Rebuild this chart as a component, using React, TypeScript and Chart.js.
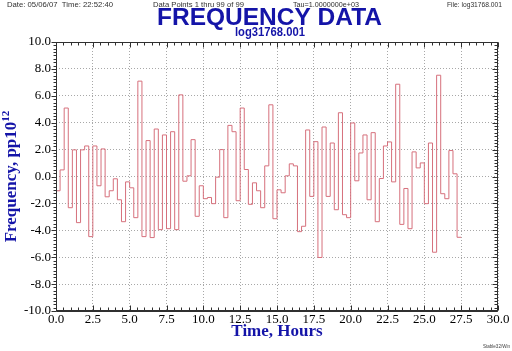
import { useEffect, useRef } from "react";
import { Chart, registerables } from "chart.js";

Chart.register(...registerables);

const TAU_SECONDS = 1000;
const FREQ_VALUES = [
  -1.06, 0.49, 5.09, -2.32, 1.98, -3.43, 1.98, 2.27, -4.47, 2.27,
  -0.69, 2.05, -1.51, -1.06, -0.17, -1.73, -3.36, -0.4, -0.84, -3.06,
  7.09, -4.47, 2.67, -4.54, 3.53, -3.95, 3.09, -3.88, 3.33, -3.95,
  6.07, -0.35, 0.05, 2.74, -2.96, -0.69, -1.65, -1.56, -2.02, -0.05,
  2.0, -3.06, 3.8, 3.33, -1.8, 5.09, 0.52, -2.07, -0.47, -1.06,
  -2.32, 0.79, 5.33, -3.14, -0.99, -1.21, 0.05, 0.94, 0.79, -4.1,
  -3.7, 3.46, -1.48, 2.59, -6.02, 3.68, -1.48, 2.49, -2.47, 4.74,
  -2.84, -3.06, 3.98, -0.32, 1.75, 3.09, -1.73, 3.26, -3.36, -0.15,
  2.27, 2.57, -0.4, 6.86, -3.56, -0.89, -3.88, 1.83, 0.64, 1.01,
  -2.02, 2.49, -5.63, 7.53, -1.28, -1.65, 1.93, 0.2, -4.52,
];

const X_MIN = 0;
const X_MAX = 30;
const X_MAJOR = 2.5;
const X_MINOR = 0.5;
const Y_MIN = -10;
const Y_MAX = 10;
const Y_MAJOR = 2;
const Y_MINOR = 0.25;

const TITLE = "FREQUENCY DATA";
const SUBTITLE = "log31768.001";
const HEADER_TEXTS = [
  "Date: 05/06/07  Time: 22:52:40",
  "Data Points 1 thru 99 of 99",
  "Tau=1.0000000e+03",
  "File: log31768.001",
];
const FOOTER_TEXT = "Stable32/Win";
const X_TITLE = "Time, Hours";
const Y_TITLE_MAIN = "Frequency, pp10";
const Y_TITLE_SUP = "12";

const BLUE = "#1414a8";
const LINE_COLOR = "#d6707c";

function fitText(
  ctx: CanvasRenderingContext2D,
  text: string,
  font: string,
  color: string,
  x: number,
  y: number,
  width: number
) {
  ctx.save();
  ctx.font = font;
  ctx.fillStyle = color;
  ctx.textAlign = "left";
  ctx.textBaseline = "middle";
  const w = ctx.measureText(text).width;
  ctx.translate(x, y);
  ctx.scale(width / w, 1);
  ctx.fillText(text, 0, 0);
  ctx.restore();
}

const decorPlugin = {
  id: "decor",
  afterDraw(chart: any) {
    const ctx: CanvasRenderingContext2D = chart.ctx;
    const { left, right, top, bottom } = chart.chartArea;
    const xs = chart.scales.x;
    const ys = chart.scales.y;

    // frame
    ctx.save();
    ctx.strokeStyle = "#303030";
    ctx.lineWidth = 1;
    const L = Math.round(left) + 0.5;
    const R = Math.round(right) - 0.5;
    const T = Math.round(top) + 0.5;
    const B = Math.round(bottom) - 0.5;
    ctx.strokeRect(L, T, R - L, B - T);
    ctx.beginPath();
    ctx.moveTo(L, B + 1);
    ctx.lineTo(R, B + 1);
    ctx.stroke();

    // x minor/major ticks (top & bottom, inward)
    const nx = Math.round((X_MAX - X_MIN) / X_MINOR);
    const xPer = Math.round(X_MAJOR / X_MINOR);
    ctx.beginPath();
    for (let k = 0; k <= nx; k++) {
      const v = X_MIN + k * X_MINOR;
      const px = Math.round(xs.getPixelForValue(v)) + 0.5;
      const len = k % xPer === 0 ? 5 : 3;
      ctx.moveTo(px, T);
      ctx.lineTo(px, T + len);
      ctx.moveTo(px, B);
      ctx.lineTo(px, B - len);
    }
    // y ticks: left outward, right inward
    const ny = Math.round((Y_MAX - Y_MIN) / Y_MINOR);
    const yPer = Math.round(Y_MAJOR / Y_MINOR);
    for (let k = 0; k <= ny; k++) {
      const v = Y_MIN + k * Y_MINOR;
      const py = Math.round(ys.getPixelForValue(v)) + 0.5;
      const len = k % yPer === 0 ? 5 : 3;
      ctx.moveTo(L, py);
      ctx.lineTo(L - len, py);
      ctx.moveTo(R, py);
      ctx.lineTo(R - len, py);
    }
    ctx.stroke();
    ctx.restore();

    // header
    const hdrFont = '8px "Liberation Sans"';
    const hdrColor = "#303030";
    fitText(ctx, HEADER_TEXTS[0], hdrFont, hdrColor, 7, 5, 106);
    fitText(ctx, HEADER_TEXTS[1], hdrFont, hdrColor, 153, 5, 91);
    fitText(ctx, HEADER_TEXTS[2], hdrFont, hdrColor, 293, 5, 66);
    fitText(ctx, HEADER_TEXTS[3], hdrFont, hdrColor, 447, 5, 55);

    // titles
    fitText(ctx, TITLE, 'bold 23px "Liberation Sans"', BLUE, 157, 18.5, 225);
    fitText(ctx, SUBTITLE, 'bold 12px "Liberation Sans"', BLUE, 235, 33, 70);

    // x title
    ctx.save();
    ctx.font = 'bold 17px "Liberation Serif"';
    ctx.fillStyle = BLUE;
    ctx.textAlign = "center";
    ctx.textBaseline = "middle";
    ctx.fillText(X_TITLE, 277, 332);
    ctx.restore();

    // y title rotated with superscript
    ctx.save();
    ctx.translate(12, (top + bottom) / 2);
    ctx.rotate(-Math.PI / 2);
    ctx.fillStyle = BLUE;
    ctx.textBaseline = "middle";
    ctx.textAlign = "left";
    const mainFont = 'bold 17px "Liberation Serif"';
    const supFont = 'bold 11px "Liberation Serif"';
    ctx.font = mainFont;
    const w1 = ctx.measureText(Y_TITLE_MAIN).width;
    ctx.font = supFont;
    const w2 = ctx.measureText(Y_TITLE_SUP).width;
    const start = -(w1 + w2) / 2;
    ctx.font = mainFont;
    ctx.fillText(Y_TITLE_MAIN, start, 0);
    ctx.font = supFont;
    ctx.fillText(Y_TITLE_SUP, start + w1, -6);
    ctx.restore();

    // footer
    fitText(ctx, FOOTER_TEXT, '5px "Liberation Sans"', "#404040", 483, 347, 27);
  },
};

export default function App() {
  const ref = useRef<HTMLCanvasElement | null>(null);

  useEffect(() => {
    if (!ref.current) return;
    const hours = TAU_SECONDS / 3600;
    const pts = FREQ_VALUES.map((v, i) => ({ x: i * hours, y: v }));
    pts.push({ x: FREQ_VALUES.length * hours, y: FREQ_VALUES[FREQ_VALUES.length - 1] });

    const tickFont = { family: '"Liberation Serif"', size: 13 };
    const chart = new Chart(ref.current, {
      type: "line",
      data: {
        datasets: [
          {
            data: pts,
            stepped: "before",
            borderColor: LINE_COLOR,
            borderWidth: 1,
            pointRadius: 0,
            fill: false,
          },
        ],
      },
      options: {
        animation: false,
        responsive: false,
        devicePixelRatio: 1,
        layout: { padding: { top: 42, right: 14, left: 0, bottom: 0 } },
        plugins: { legend: { display: false }, tooltip: { enabled: false } },
        scales: {
          x: {
            type: "linear",
            min: X_MIN,
            max: X_MAX,
            ticks: {
              stepSize: X_MAJOR,
              autoSkip: false,
              maxRotation: 0,
              padding: 1,
              color: "#000",
              font: tickFont,
              callback: (v: any) => Number(v).toFixed(1),
            },
            grid: { color: "#a8a8a8", drawTicks: false, lineWidth: 1 },
            border: { display: false, dash: [1, 2] },
            afterFit: (s: any) => {
              s.height = 40;
            },
          },
          y: {
            type: "linear",
            min: Y_MIN,
            max: Y_MAX,
            ticks: {
              stepSize: Y_MAJOR,
              autoSkip: false,
              padding: 5,
              color: "#000",
              font: tickFont,
              callback: (v: any) => Number(v).toFixed(1),
            },
            grid: { color: "#a8a8a8", drawTicks: false, lineWidth: 1 },
            border: { display: false, dash: [1, 2] },
            afterFit: (s: any) => {
              s.width = 56;
            },
          },
        },
      } as any,
      plugins: [decorPlugin],
    });
    return () => chart.destroy();
  }, []);

  return (
    <div style={{ position: "absolute", left: 0, top: 0, width: 512, height: 351, background: "#fff" }}>
      <canvas ref={ref} width={512} height={351} style={{ width: 512, height: 351, display: "block" }} />
    </div>
  );
}
